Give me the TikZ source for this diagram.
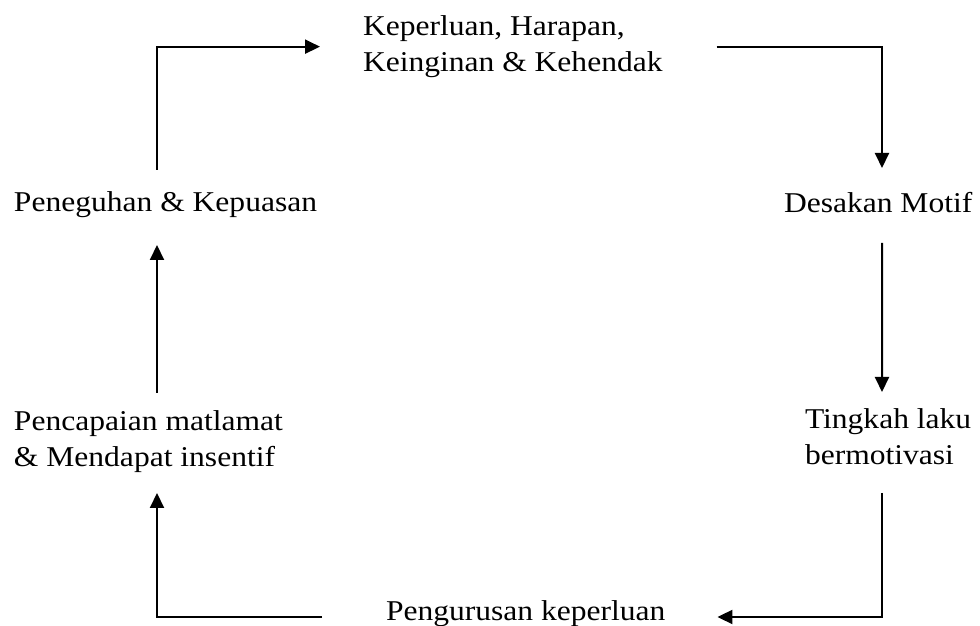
\documentclass[tikz,border=0pt]{standalone}
\usepackage{fontspec}
\setmainfont{Liberation Serif}[FakeStretch=1.1]
\usetikzlibrary{arrows.meta}
\usetikzlibrary{calc}

\begin{document}
\begin{tikzpicture}[>={Triangle[length=3.75mm,width=3.5mm]}, line width=0.5mm,
    lbl/.style={anchor=base west, inner sep=0pt, align=left, font=\fontsize{20.4}{26.3}\selectfont}]
      \useasboundingbox (0,0) rectangle (24.5,15.65);

      \node at (9.05,13.85) [lbl, name=need]
      {Keperluan, Harapan,\\Keinginan \& Kehendak};

      \node at (19.575,10.325) [lbl, name=motive] {Desakan Motif};

      \node at (20.1,4.025) [lbl, name=behave]
      {Tingkah laku\\bermotivasi};

      \node at (9.625,0.125) [lbl, name=handle] {Pengurusan keperluan};

      \node at (0.325,3.975) [lbl, name=achieve]
      {Pencapaian matlamat\\\& Mendapat insentif};

      \node at (0.325,10.35) [lbl, name=reinforce] {Peneguhan \& Kepuasan};

      \draw [->] ($(reinforce.base west) + (3.6, 1.05)$) |- ($(need.west) + (-1.05, 0)$);
      \draw [->] ($(need.east) + (1.325, 0)$) -| ($(motive.base west) + (2.475, 1.125)$);
      \draw [->] ($(motive.base west) + (2.475, -0.75)$) -- ($(behave.base west) + (1.95, 1.825)$);
      \draw [->] ($(behave.base west) + (1.95, -0.7)$) |- ($(handle.base east) + (1.275, 0.1)$);
      \draw [->] ($(handle.base west) + (-1.575, 0.1)$) -| ($(achieve.base west) + (3.6, -0.65)$);
      \draw [->] ($(achieve.base west) + (3.6, 1.85)$) -- ($(reinforce.base west) + (3.6, -0.825)$);
\end{tikzpicture}
\end{document}
